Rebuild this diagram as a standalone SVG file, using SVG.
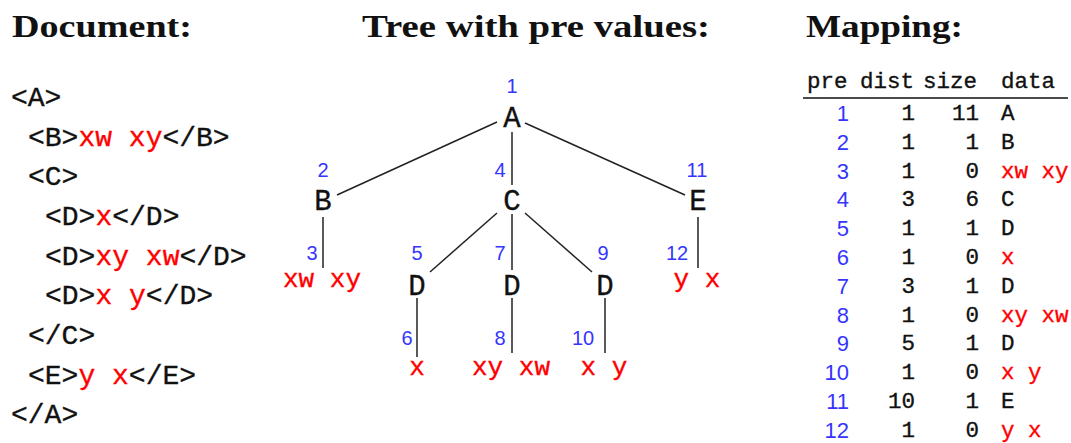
<svg xmlns="http://www.w3.org/2000/svg" width="1071" height="443" viewBox="0 0 1071 443">
<style>
.h{font-family:"Liberation Serif",serif;font-weight:bold;font-size:32px;fill:#111}
.tt{font-family:"Liberation Mono",monospace;fill:#111;stroke:#111;stroke-width:0.35}
.doc{font-size:28px}
.lbl{font-size:29px;text-anchor:middle}
.leaf{font-size:26px;text-anchor:middle}
.tab{font-size:22.5px}
.r{fill:#f00;stroke:#f00}
.n{font-family:"Liberation Sans",sans-serif;fill:#3535ff}
.tn{font-size:20px;text-anchor:middle}
.pn{font-size:22px;text-anchor:end}
.e{stroke:#222;stroke-width:1.5;fill:none}
.end{text-anchor:end}
</style>
<rect width="1071" height="443" fill="#fff"/>
<g id="headings">
<text class="h" x="12" y="37" textLength="180" lengthAdjust="spacingAndGlyphs">Document:</text>
<text class="h" x="362" y="37" textLength="348" lengthAdjust="spacingAndGlyphs">Tree with pre values:</text>
<text class="h" x="806" y="37" textLength="157" lengthAdjust="spacingAndGlyphs">Mapping:</text>
</g>
<g id="document" class="tt doc">
<text x="11" y="106">&lt;A&gt;</text>
<text x="28" y="145.5">&lt;B&gt;<tspan class="r">xw xy</tspan>&lt;/B&gt;</text>
<text x="28" y="185">&lt;C&gt;</text>
<text x="45" y="225">&lt;D&gt;<tspan class="r">x</tspan>&lt;/D&gt;</text>
<text x="45" y="264.5">&lt;D&gt;<tspan class="r">xy xw</tspan>&lt;/D&gt;</text>
<text x="45" y="304">&lt;D&gt;<tspan class="r">x y</tspan>&lt;/D&gt;</text>
<text x="28" y="344">&lt;/C&gt;</text>
<text x="28" y="383.5">&lt;E&gt;<tspan class="r">y x</tspan>&lt;/E&gt;</text>
<text x="11" y="423">&lt;/A&gt;</text>
</g>
<g id="connectors" class="e">
<path d="M497 122 L337 195"/>
<path d="M512 132 L512 185"/>
<path d="M525 123 L685 195"/>
<path d="M323 217 L323 268"/>
<path d="M497 213 L430 272"/>
<path d="M512 214 L512 270"/>
<path d="M525 213 L592 272"/>
<path d="M698 217 L698 268"/>
<path d="M417 298 L417 357"/>
<path d="M512 298 L512 353"/>
<path d="M605 298 L605 353"/>
</g>
<g id="node-A"><text class="n tn" x="512" y="93">1</text><text class="tt lbl" x="512" y="127">A</text></g>
<g id="node-B"><text class="n tn" x="323" y="177">2</text><text class="tt lbl" x="323" y="210">B</text></g>
<g id="node-B-text"><text class="n tn" x="312" y="260">3</text><text class="tt leaf r" x="322" y="287">xw xy</text></g>
<g id="node-C"><text class="n tn" x="500" y="177">4</text><text class="tt lbl" x="512" y="210">C</text></g>
<g id="node-D1"><text class="n tn" x="417" y="260">5</text><text class="tt lbl" x="417" y="295">D</text></g>
<g id="node-D1-text"><text class="n tn" x="407" y="345">6</text><text class="tt leaf r" x="417" y="375">x</text></g>
<g id="node-D2"><text class="n tn" x="500" y="260">7</text><text class="tt lbl" x="512" y="295">D</text></g>
<g id="node-D2-text"><text class="n tn" x="500" y="345">8</text><text class="tt leaf r" x="511" y="375">xy xw</text></g>
<g id="node-D3"><text class="n tn" x="603" y="260">9</text><text class="tt lbl" x="605" y="295">D</text></g>
<g id="node-D3-text"><text class="n tn" x="583" y="345">10</text><text class="tt leaf r" x="604" y="375">x y</text></g>
<g id="node-E"><text class="n tn" x="697" y="177">11</text><text class="tt lbl" x="698" y="210">E</text></g>
<g id="node-E-text"><text class="n tn" x="677" y="260">12</text><text class="tt leaf r" x="697" y="287">y x</text></g>
<g id="mapping">
<g class="tt tab">
<text x="807" y="88">pre</text><text x="860" y="88">dist</text><text x="923" y="88">size</text><text x="1001" y="88">data</text>
</g>
<line x1="803" y1="98" x2="1068" y2="98" stroke="#111" stroke-width="1.6"/>
<g class="n pn">
<text x="849" y="121">1</text><text x="849" y="149.8">2</text><text x="849" y="178.6">3</text><text x="849" y="207.4">4</text>
<text x="849" y="236.2">5</text><text x="849" y="265">6</text><text x="849" y="293.8">7</text><text x="849" y="322.6">8</text>
<text x="849" y="351.4">9</text><text x="849" y="380.2">10</text><text x="849" y="409">11</text><text x="849" y="437.8">12</text>
</g>
<g class="tt tab end">
<text x="915" y="120">1</text><text x="915" y="148.8">1</text><text x="915" y="177.6">1</text><text x="915" y="206.4">3</text>
<text x="915" y="235.2">1</text><text x="915" y="264">1</text><text x="915" y="292.8">3</text><text x="915" y="321.6">1</text>
<text x="915" y="350.4">5</text><text x="915" y="379.2">1</text><text x="915" y="408">10</text><text x="915" y="436.8">1</text>
<text x="979" y="120">11</text><text x="979" y="148.8">1</text><text x="979" y="177.6">0</text><text x="979" y="206.4">6</text>
<text x="979" y="235.2">1</text><text x="979" y="264">0</text><text x="979" y="292.8">1</text><text x="979" y="321.6">0</text>
<text x="979" y="350.4">1</text><text x="979" y="379.2">0</text><text x="979" y="408">1</text><text x="979" y="436.8">0</text>
</g>
<g class="tt tab">
<text x="1001" y="120">A</text><text x="1001" y="148.8">B</text><text class="r" x="1001" y="177.6">xw xy</text><text x="1001" y="206.4">C</text>
<text x="1001" y="235.2">D</text><text class="r" x="1001" y="264">x</text><text x="1001" y="292.8">D</text><text class="r" x="1001" y="321.6">xy xw</text>
<text x="1001" y="350.4">D</text><text class="r" x="1001" y="379.2">x y</text><text x="1001" y="408">E</text><text class="r" x="1001" y="436.8">y x</text>
</g>
</g>
</svg>
